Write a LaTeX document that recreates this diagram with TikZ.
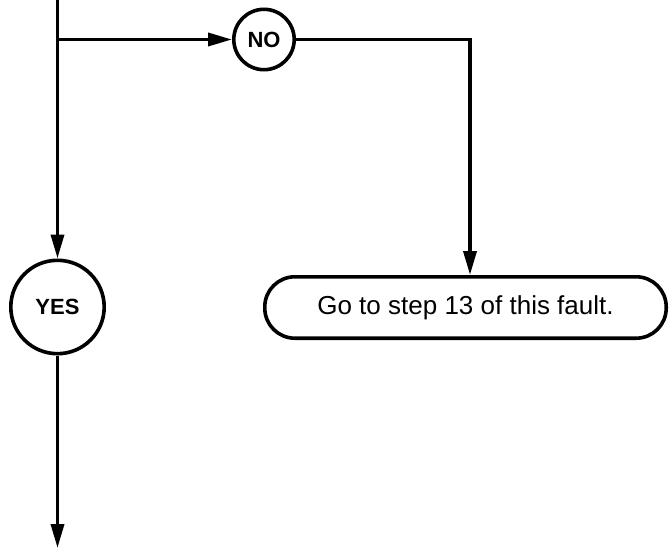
\documentclass[tikz,border=0pt]{standalone}
\usepackage{fontspec}
\setmainfont{Liberation Sans}
\usetikzlibrary{arrows.meta}
\begin{document}
\begin{tikzpicture}[x=1pt,y=-1pt,line width=3.6pt,
  conn/.style={draw,-{Triangle[length=24pt,width=13pt]}},
  answer/.style={circle,draw,line width=3.6pt,inner sep=0pt,font=\bfseries\fontsize{22}{26}\selectfont},
  action/.style={draw,line width=3.6pt,rounded corners=30pt,minimum width=401.4pt,minimum height=61.4pt,inner sep=0pt,font=\fontsize{26}{31}\selectfont}]
\useasboundingbox (0,0) rectangle (669,548);
\node[answer,minimum size=60.4pt] (no) at (264,39.5) {NO};
\node[answer,minimum size=93.4pt] (yes) at (57.5,307) {YES};
\node[action] (box) at (465.5,307.5) {Go to step 13 of this fault.};
\coordinate (top) at (57.5,0);
\coordinate (branch) at (57.5,39.5);
\coordinate (corner) at (470,39.5);
\coordinate (bottom) at (57.5,548);
\draw[conn] (top) -- (yes.north);
\draw[conn] (branch) -- (no.west);
\draw[conn] (no.east) -- (corner) -- (corner |- box.north);
\draw[conn] (yes.south) -- (bottom);
\end{tikzpicture}
\end{document}
